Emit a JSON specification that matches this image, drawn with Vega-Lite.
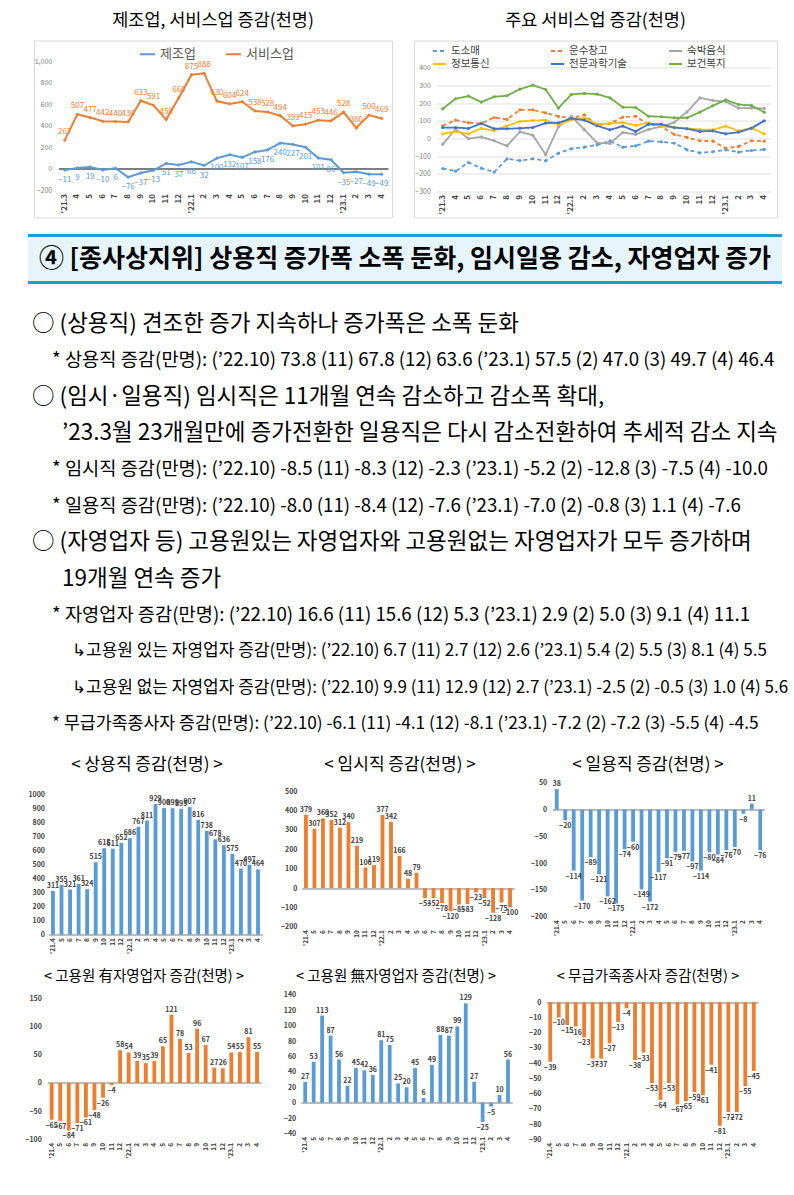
{
  "$schema": "https://vega.github.io/schema/vega-lite/v6.json",
  "padding": {"top": 11.5, "left": 24, "right": 0, "bottom": 0},
  "background": "white",
  "spacing": 15,
  "resolve": {"scale": {"color": "independent", "strokeDash": "independent"}, "legend": {"color": "independent", "strokeDash": "independent"}},
  "config": {
    "font": "Noto Sans CJK KR",
    "view": {"stroke": null},
    "title": {"font": "Noto Sans CJK KR", "fontWeight": "normal", "color": "#000000"},
    "axis": {"labelFont": "Noto Sans CJK KR"},
    "legend": {"labelFont": "Noto Sans CJK KR"}
  },
  "datasets": {
    "mfgsvc": [
      {"month":"21.03","series":"제조업","value":-11},{"month":"21.04","series":"제조업","value":9},{"month":"21.05","series":"제조업","value":19},{"month":"21.06","series":"제조업","value":-10},{"month":"21.07","series":"제조업","value":6},{"month":"21.08","series":"제조업","value":-76},{"month":"21.09","series":"제조업","value":-37},{"month":"21.10","series":"제조업","value":-13},{"month":"21.11","series":"제조업","value":51},{"month":"21.12","series":"제조업","value":37},{"month":"22.01","series":"제조업","value":66},{"month":"22.02","series":"제조업","value":32},{"month":"22.03","series":"제조업","value":100},{"month":"22.04","series":"제조업","value":132},{"month":"22.05","series":"제조업","value":107},{"month":"22.06","series":"제조업","value":158},{"month":"22.07","series":"제조업","value":176},{"month":"22.08","series":"제조업","value":240},{"month":"22.09","series":"제조업","value":227},{"month":"22.10","series":"제조업","value":201},{"month":"22.11","series":"제조업","value":101},{"month":"22.12","series":"제조업","value":86},{"month":"23.01","series":"제조업","value":-35},{"month":"23.02","series":"제조업","value":-27},{"month":"23.03","series":"제조업","value":-49},{"month":"23.04","series":"제조업","value":-49},
      {"month":"21.03","series":"서비스업","value":267},{"month":"21.04","series":"서비스업","value":507},{"month":"21.05","series":"서비스업","value":477},{"month":"21.06","series":"서비스업","value":442},{"month":"21.07","series":"서비스업","value":440},{"month":"21.08","series":"서비스업","value":436},{"month":"21.09","series":"서비스업","value":633},{"month":"21.10","series":"서비스업","value":591},{"month":"21.11","series":"서비스업","value":458},{"month":"21.12","series":"서비스업","value":660},{"month":"22.01","series":"서비스업","value":875},{"month":"22.02","series":"서비스업","value":888},{"month":"22.03","series":"서비스업","value":630},{"month":"22.04","series":"서비스업","value":604},{"month":"22.05","series":"서비스업","value":624},{"month":"22.06","series":"서비스업","value":538},{"month":"22.07","series":"서비스업","value":528},{"month":"22.08","series":"서비스업","value":494},{"month":"22.09","series":"서비스업","value":399},{"month":"22.10","series":"서비스업","value":415},{"month":"22.11","series":"서비스업","value":453},{"month":"22.12","series":"서비스업","value":446},{"month":"23.01","series":"서비스업","value":528},{"month":"23.02","series":"서비스업","value":380},{"month":"23.03","series":"서비스업","value":500},{"month":"23.04","series":"서비스업","value":469}
    ],
    "services": [
      {"month":"21.03","series":"도소매","value":-170},{"month":"21.04","series":"도소매","value":-185},{"month":"21.05","series":"도소매","value":-136},{"month":"21.06","series":"도소매","value":-168},{"month":"21.07","series":"도소매","value":-190},{"month":"21.08","series":"도소매","value":-115},{"month":"21.09","series":"도소매","value":-125},{"month":"21.10","series":"도소매","value":-115},{"month":"21.11","series":"도소매","value":-126},{"month":"21.12","series":"도소매","value":-83},{"month":"22.01","series":"도소매","value":-58},{"month":"22.02","series":"도소매","value":-49},{"month":"22.03","series":"도소매","value":-36},{"month":"22.04","series":"도소매","value":-15},{"month":"22.05","series":"도소매","value":-49},{"month":"22.06","series":"도소매","value":-42},{"month":"22.07","series":"도소매","value":-15},{"month":"22.08","series":"도소매","value":-19},{"month":"22.09","series":"도소매","value":-26},{"month":"22.10","series":"도소매","value":-64},{"month":"22.11","series":"도소매","value":-81},{"month":"22.12","series":"도소매","value":-75},{"month":"23.01","series":"도소매","value":-64},{"month":"23.02","series":"도소매","value":-77},{"month":"23.03","series":"도소매","value":-68},{"month":"23.04","series":"도소매","value":-62},
      {"month":"21.03","series":"운수창고","value":72},{"month":"21.04","series":"운수창고","value":104},{"month":"21.05","series":"운수창고","value":89},{"month":"21.06","series":"운수창고","value":85},{"month":"21.07","series":"운수창고","value":119},{"month":"21.08","series":"운수창고","value":108},{"month":"21.09","series":"운수창고","value":162},{"month":"21.10","series":"운수창고","value":162},{"month":"21.11","series":"운수창고","value":145},{"month":"21.12","series":"운수창고","value":125},{"month":"22.01","series":"운수창고","value":115},{"month":"22.02","series":"운수창고","value":134},{"month":"22.03","series":"운수창고","value":75},{"month":"22.04","series":"운수창고","value":85},{"month":"22.05","series":"운수창고","value":121},{"month":"22.06","series":"운수창고","value":126},{"month":"22.07","series":"운수창고","value":79},{"month":"22.08","series":"운수창고","value":68},{"month":"22.09","series":"운수창고","value":23},{"month":"22.10","series":"운수창고","value":6},{"month":"22.11","series":"운수창고","value":-13},{"month":"22.12","series":"운수창고","value":-15},{"month":"23.01","series":"운수창고","value":-55},{"month":"23.02","series":"운수창고","value":-45},{"month":"23.03","series":"운수창고","value":-13},{"month":"23.04","series":"운수창고","value":-15},
      {"month":"21.03","series":"숙박음식","value":-32},{"month":"21.04","series":"숙박음식","value":53},{"month":"21.05","series":"숙박음식","value":0},{"month":"21.06","series":"숙박음식","value":9},{"month":"21.07","series":"숙박음식","value":-13},{"month":"21.08","series":"숙박음식","value":-42},{"month":"21.09","series":"숙박음식","value":38},{"month":"21.10","series":"숙박음식","value":19},{"month":"21.11","series":"숙박음식","value":-91},{"month":"21.12","series":"숙박음식","value":66},{"month":"22.01","series":"숙박음식","value":126},{"month":"22.02","series":"숙박음식","value":51},{"month":"22.03","series":"숙박음식","value":-25},{"month":"22.04","series":"숙박음식","value":-28},{"month":"22.05","series":"숙박음식","value":34},{"month":"22.06","series":"숙박음식","value":23},{"month":"22.07","series":"숙박음식","value":51},{"month":"22.08","series":"숙박음식","value":68},{"month":"22.09","series":"숙박음식","value":91},{"month":"22.10","series":"숙박음식","value":151},{"month":"22.11","series":"숙박음식","value":230},{"month":"22.12","series":"숙박음식","value":215},{"month":"23.01","series":"숙박음식","value":209},{"month":"23.02","series":"숙박음식","value":172},{"month":"23.03","series":"숙박음식","value":172},{"month":"23.04","series":"숙박음식","value":170},
      {"month":"21.03","series":"정보통신","value":26},{"month":"21.04","series":"정보통신","value":40},{"month":"21.05","series":"정보통신","value":26},{"month":"21.06","series":"정보통신","value":57},{"month":"21.07","series":"정보통신","value":45},{"month":"21.08","series":"정보통신","value":72},{"month":"21.09","series":"정보통신","value":96},{"month":"21.10","series":"정보통신","value":102},{"month":"21.11","series":"정보통신","value":104},{"month":"21.12","series":"정보통신","value":77},{"month":"22.01","series":"정보통신","value":106},{"month":"22.02","series":"정보통신","value":117},{"month":"22.03","series":"정보통신","value":81},{"month":"22.04","series":"정보통신","value":85},{"month":"22.05","series":"정보통신","value":91},{"month":"22.06","series":"정보통신","value":74},{"month":"22.07","series":"정보통신","value":89},{"month":"22.08","series":"정보통신","value":68},{"month":"22.09","series":"정보통신","value":62},{"month":"22.10","series":"정보통신","value":57},{"month":"22.11","series":"정보통신","value":51},{"month":"22.12","series":"정보통신","value":49},{"month":"23.01","series":"정보통신","value":70},{"month":"23.02","series":"정보통신","value":43},{"month":"23.03","series":"정보통신","value":60},{"month":"23.04","series":"정보통신","value":26},
      {"month":"21.03","series":"전문과학기술","value":62},{"month":"21.04","series":"전문과학기술","value":62},{"month":"21.05","series":"전문과학기술","value":57},{"month":"21.06","series":"전문과학기술","value":85},{"month":"21.07","series":"전문과학기술","value":55},{"month":"21.08","series":"전문과학기술","value":55},{"month":"21.09","series":"전문과학기술","value":58},{"month":"21.10","series":"전문과학기술","value":62},{"month":"21.11","series":"전문과학기술","value":87},{"month":"21.12","series":"전문과학기술","value":89},{"month":"22.01","series":"전문과학기술","value":113},{"month":"22.02","series":"전문과학기술","value":104},{"month":"22.03","series":"전문과학기술","value":72},{"month":"22.04","series":"전문과학기술","value":49},{"month":"22.05","series":"전문과학기술","value":70},{"month":"22.06","series":"전문과학기술","value":40},{"month":"22.07","series":"전문과학기술","value":81},{"month":"22.08","series":"전문과학기술","value":81},{"month":"22.09","series":"전문과학기술","value":62},{"month":"22.10","series":"전문과학기술","value":55},{"month":"22.11","series":"전문과학기술","value":40},{"month":"22.12","series":"전문과학기술","value":43},{"month":"23.01","series":"전문과학기술","value":26},{"month":"23.02","series":"전문과학기술","value":36},{"month":"23.03","series":"전문과학기술","value":58},{"month":"23.04","series":"전문과학기술","value":100},
      {"month":"21.03","series":"보건복지","value":168},{"month":"21.04","series":"보건복지","value":225},{"month":"21.05","series":"보건복지","value":240},{"month":"21.06","series":"보건복지","value":206},{"month":"21.07","series":"보건복지","value":236},{"month":"21.08","series":"보건복지","value":242},{"month":"21.09","series":"보건복지","value":279},{"month":"21.10","series":"보건복지","value":302},{"month":"21.11","series":"보건복지","value":277},{"month":"21.12","series":"보건복지","value":172},{"month":"22.01","series":"보건복지","value":249},{"month":"22.02","series":"보건복지","value":255},{"month":"22.03","series":"보건복지","value":251},{"month":"22.04","series":"보건복지","value":230},{"month":"22.05","series":"보건복지","value":177},{"month":"22.06","series":"보건복지","value":175},{"month":"22.07","series":"보건복지","value":126},{"month":"22.08","series":"보건복지","value":123},{"month":"22.09","series":"보건복지","value":117},{"month":"22.10","series":"보건복지","value":117},{"month":"22.11","series":"보건복지","value":149},{"month":"22.12","series":"보건복지","value":185},{"month":"23.01","series":"보건복지","value":219},{"month":"23.02","series":"보건복지","value":192},{"month":"23.03","series":"보건복지","value":187},{"month":"23.04","series":"보건복지","value":149}
    ],
    "emp": [
      {"month":"21.04","series":"상용직","value":311},{"month":"21.05","series":"상용직","value":355},{"month":"21.06","series":"상용직","value":321},{"month":"21.07","series":"상용직","value":361},{"month":"21.08","series":"상용직","value":324},{"month":"21.09","series":"상용직","value":515},{"month":"21.10","series":"상용직","value":615},{"month":"21.11","series":"상용직","value":611},{"month":"21.12","series":"상용직","value":652},{"month":"22.01","series":"상용직","value":686},{"month":"22.02","series":"상용직","value":767},{"month":"22.03","series":"상용직","value":811},{"month":"22.04","series":"상용직","value":929},{"month":"22.05","series":"상용직","value":900},{"month":"22.06","series":"상용직","value":899},{"month":"22.07","series":"상용직","value":895},{"month":"22.08","series":"상용직","value":907},{"month":"22.09","series":"상용직","value":816},{"month":"22.10","series":"상용직","value":738},{"month":"22.11","series":"상용직","value":678},{"month":"22.12","series":"상용직","value":636},{"month":"23.01","series":"상용직","value":575},{"month":"23.02","series":"상용직","value":470},{"month":"23.03","series":"상용직","value":497},{"month":"23.04","series":"상용직","value":464},
      {"month":"21.04","series":"임시직","value":379},{"month":"21.05","series":"임시직","value":307},{"month":"21.06","series":"임시직","value":360},{"month":"21.07","series":"임시직","value":352},{"month":"21.08","series":"임시직","value":312},{"month":"21.09","series":"임시직","value":340},{"month":"21.10","series":"임시직","value":219},{"month":"21.11","series":"임시직","value":106},{"month":"21.12","series":"임시직","value":119},{"month":"22.01","series":"임시직","value":377},{"month":"22.02","series":"임시직","value":342},{"month":"22.03","series":"임시직","value":166},{"month":"22.04","series":"임시직","value":48},{"month":"22.05","series":"임시직","value":79},{"month":"22.06","series":"임시직","value":-53},{"month":"22.07","series":"임시직","value":-52},{"month":"22.08","series":"임시직","value":-78},{"month":"22.09","series":"임시직","value":-120},{"month":"22.10","series":"임시직","value":-85},{"month":"22.11","series":"임시직","value":-83},{"month":"22.12","series":"임시직","value":-23},{"month":"23.01","series":"임시직","value":-52},{"month":"23.02","series":"임시직","value":-128},{"month":"23.03","series":"임시직","value":-75},{"month":"23.04","series":"임시직","value":-100},
      {"month":"21.04","series":"일용직","value":38},{"month":"21.05","series":"일용직","value":-20},{"month":"21.06","series":"일용직","value":-114},{"month":"21.07","series":"일용직","value":-170},{"month":"21.08","series":"일용직","value":-89},{"month":"21.09","series":"일용직","value":-121},{"month":"21.10","series":"일용직","value":-162},{"month":"21.11","series":"일용직","value":-175},{"month":"21.12","series":"일용직","value":-74},{"month":"22.01","series":"일용직","value":-60},{"month":"22.02","series":"일용직","value":-149},{"month":"22.03","series":"일용직","value":-172},{"month":"22.04","series":"일용직","value":-117},{"month":"22.05","series":"일용직","value":-91},{"month":"22.06","series":"일용직","value":-79},{"month":"22.07","series":"일용직","value":-77},{"month":"22.08","series":"일용직","value":-97},{"month":"22.09","series":"일용직","value":-114},{"month":"22.10","series":"일용직","value":-80},{"month":"22.11","series":"일용직","value":-84},{"month":"22.12","series":"일용직","value":-76},{"month":"23.01","series":"일용직","value":-70},{"month":"23.02","series":"일용직","value":-8},{"month":"23.03","series":"일용직","value":11},{"month":"23.04","series":"일용직","value":-76},
      {"month":"21.04","series":"고용원 있는 자영업자","value":-65},{"month":"21.05","series":"고용원 있는 자영업자","value":-67},{"month":"21.06","series":"고용원 있는 자영업자","value":-84},{"month":"21.07","series":"고용원 있는 자영업자","value":-71},{"month":"21.08","series":"고용원 있는 자영업자","value":-61},{"month":"21.09","series":"고용원 있는 자영업자","value":-48},{"month":"21.10","series":"고용원 있는 자영업자","value":-26},{"month":"21.11","series":"고용원 있는 자영업자","value":-4},{"month":"21.12","series":"고용원 있는 자영업자","value":58},{"month":"22.01","series":"고용원 있는 자영업자","value":54},{"month":"22.02","series":"고용원 있는 자영업자","value":39},{"month":"22.03","series":"고용원 있는 자영업자","value":35},{"month":"22.04","series":"고용원 있는 자영업자","value":39},{"month":"22.05","series":"고용원 있는 자영업자","value":65},{"month":"22.06","series":"고용원 있는 자영업자","value":121},{"month":"22.07","series":"고용원 있는 자영업자","value":78},{"month":"22.08","series":"고용원 있는 자영업자","value":53},{"month":"22.09","series":"고용원 있는 자영업자","value":96},{"month":"22.10","series":"고용원 있는 자영업자","value":67},{"month":"22.11","series":"고용원 있는 자영업자","value":27},{"month":"22.12","series":"고용원 있는 자영업자","value":26},{"month":"23.01","series":"고용원 있는 자영업자","value":54},{"month":"23.02","series":"고용원 있는 자영업자","value":55},{"month":"23.03","series":"고용원 있는 자영업자","value":81},{"month":"23.04","series":"고용원 있는 자영업자","value":55},
      {"month":"21.04","series":"고용원 없는 자영업자","value":27},{"month":"21.05","series":"고용원 없는 자영업자","value":53},{"month":"21.06","series":"고용원 없는 자영업자","value":113},{"month":"21.07","series":"고용원 없는 자영업자","value":87},{"month":"21.08","series":"고용원 없는 자영업자","value":56},{"month":"21.09","series":"고용원 없는 자영업자","value":22},{"month":"21.10","series":"고용원 없는 자영업자","value":45},{"month":"21.11","series":"고용원 없는 자영업자","value":42},{"month":"21.12","series":"고용원 없는 자영업자","value":36},{"month":"22.01","series":"고용원 없는 자영업자","value":81},{"month":"22.02","series":"고용원 없는 자영업자","value":75},{"month":"22.03","series":"고용원 없는 자영업자","value":25},{"month":"22.04","series":"고용원 없는 자영업자","value":20},{"month":"22.05","series":"고용원 없는 자영업자","value":45},{"month":"22.06","series":"고용원 없는 자영업자","value":6},{"month":"22.07","series":"고용원 없는 자영업자","value":49},{"month":"22.08","series":"고용원 없는 자영업자","value":88},{"month":"22.09","series":"고용원 없는 자영업자","value":87},{"month":"22.10","series":"고용원 없는 자영업자","value":99},{"month":"22.11","series":"고용원 없는 자영업자","value":129},{"month":"22.12","series":"고용원 없는 자영업자","value":27},{"month":"23.01","series":"고용원 없는 자영업자","value":-25},{"month":"23.02","series":"고용원 없는 자영업자","value":-5},{"month":"23.03","series":"고용원 없는 자영업자","value":10},{"month":"23.04","series":"고용원 없는 자영업자","value":56},
      {"month":"21.04","series":"무급가족종사자","value":-39},{"month":"21.05","series":"무급가족종사자","value":-10},{"month":"21.06","series":"무급가족종사자","value":-15},{"month":"21.07","series":"무급가족종사자","value":-16},{"month":"21.08","series":"무급가족종사자","value":-23},{"month":"21.09","series":"무급가족종사자","value":-37},{"month":"21.10","series":"무급가족종사자","value":-37},{"month":"21.11","series":"무급가족종사자","value":-27},{"month":"21.12","series":"무급가족종사자","value":-13},{"month":"22.01","series":"무급가족종사자","value":-4},{"month":"22.02","series":"무급가족종사자","value":-38},{"month":"22.03","series":"무급가족종사자","value":-33},{"month":"22.04","series":"무급가족종사자","value":-53},{"month":"22.05","series":"무급가족종사자","value":-64},{"month":"22.06","series":"무급가족종사자","value":-53},{"month":"22.07","series":"무급가족종사자","value":-67},{"month":"22.08","series":"무급가족종사자","value":-65},{"month":"22.09","series":"무급가족종사자","value":-59},{"month":"22.10","series":"무급가족종사자","value":-61},{"month":"22.11","series":"무급가족종사자","value":-41},{"month":"22.12","series":"무급가족종사자","value":-81},{"month":"23.01","series":"무급가족종사자","value":-72},{"month":"23.02","series":"무급가족종사자","value":-72},{"month":"23.03","series":"무급가족종사자","value":-55},{"month":"23.04","series":"무급가족종사자","value":-45}
    ],
    "notes": [
      {"line":0,"indent":0,"kind":"main","text":"○  (상용직) 견조한 증가 지속하나 증가폭은 소폭 둔화"},
      {"line":1,"indent":1,"kind":"note","text":"*  상용직 증감(만명): (’22.10) 73.8 (11) 67.8 (12) 63.6 (’23.1) 57.5 (2) 47.0 (3) 49.7 (4) 46.4"},
      {"line":2,"indent":0,"kind":"main","text":"○  (임시·일용직) 임시직은 11개월 연속 감소하고 감소폭 확대,"},
      {"line":3,"indent":1.5,"kind":"main","text":"’23.3월 23개월만에 증가전환한 일용직은 다시 감소전환하여 추세적 감소 지속"},
      {"line":4,"indent":1,"kind":"note","text":"*  임시직 증감(만명): (’22.10) -8.5 (11) -8.3 (12) -2.3 (’23.1) -5.2 (2) -12.8 (3) -7.5 (4) -10.0"},
      {"line":5,"indent":1,"kind":"note","text":"*  일용직 증감(만명): (’22.10) -8.0 (11) -8.4 (12) -7.6 (’23.1) -7.0 (2) -0.8 (3) 1.1 (4) -7.6"},
      {"line":6,"indent":0,"kind":"main","text":"○  (자영업자 등) 고용원있는 자영업자와 고용원없는 자영업자가 모두 증가하며"},
      {"line":7,"indent":1.5,"kind":"main","text":"19개월 연속 증가"},
      {"line":8,"indent":1,"kind":"note","text":"*  자영업자 증감(만명): (’22.10) 16.6 (11) 15.6 (12) 5.3 (’23.1) 2.9 (2) 5.0 (3) 9.1 (4) 11.1"},
      {"line":9,"indent":2,"kind":"sub","text":"↳고용원 있는 자영업자 증감(만명): (’22.10) 6.7 (11) 2.7 (12) 2.6 (’23.1) 5.4 (2) 5.5 (3) 8.1 (4) 5.5"},
      {"line":10,"indent":2,"kind":"sub","text":"↳고용원 없는 자영업자 증감(만명): (’22.10) 9.9 (11) 12.9 (12) 2.7 (’23.1) -2.5 (2) -0.5 (3) 1.0 (4) 5.6"},
      {"line":11,"indent":1,"kind":"note","text":"*  무급가족종사자 증감(만명): (’22.10) -6.1 (11) -4.1 (12) -8.1 (’23.1) -7.2 (2) -7.2 (3) -5.5 (4) -4.5"}
    ]
  },
  "vconcat": [
    {
      "spacing": 4,
      "resolve": {"scale": {"color": "independent", "strokeDash": "independent"}, "legend": {"color": "independent", "strokeDash": "independent"}},
      "hconcat": [
        {"width": 1, "height": 1, "data": {"values": []}, "mark": "point", "encoding": {}},
        {
          "spacing": 20,
          "resolve": {"scale": {"color": "independent", "strokeDash": "independent"}, "legend": {"color": "independent", "strokeDash": "independent"}},
          "hconcat": [
            {
              "width": 358, "height": 177,
              "view": {"stroke": "#D9D9D9"},
              "title": {"text": "제조업, 서비스업 증감(천명)", "fontSize": 17.5, "offset": 11, "anchor": "middle"},
              "data": {"name": "mfgsvc"},
              "encoding": {
                "x": {"field": "month", "type": "ordinal", "scale": {"type": "band", "range": [24.4, 354], "paddingInner": 0, "paddingOuter": 0},
                  "axis": {"orient": "bottom", "offset": -27, "labelAngle": 270, "labelExpr": "(substring(datum.value,3)=='01' || datum.value=='21.03') ? \"'\" + substring(datum.value,0,3) + toNumber(substring(datum.value,3)) : '' + toNumber(substring(datum.value,3))", "labelFontSize": 8, "labelFontWeight": "bold", "labelColor": "#404040", "domain": false, "ticks": false, "tickSize": 0, "labelPadding": 3, "title": null}},
                "y": {"field": "value", "type": "quantitative", "scale": {"domain": [-200, 1000], "range": [150, 20.7], "nice": false},
                  "axis": {"values": [-200, 0, 200, 400, 600, 800, 1000], "offset": -19.7, "labelFontSize": 7, "labelColor": "#808080", "domain": false, "ticks": false, "tickSize": 0, "labelPadding": 2, "title": null, "grid": true, "gridColor": {"condition": {"test": "datum.value === 0", "value": "#7F7F7F"}, "value": "rgba(0,0,0,0)"}, "gridWidth": 2}},
                "color": {"field": "series", "type": "nominal", "scale": {"domain": ["제조업", "서비스업"], "range": ["#5B9BD5", "#ED7D31"]},
                  "legend": {"orient": "none", "legendX": 105, "legendY": 5, "direction": "horizontal", "columns": 2, "columnPadding": 26, "title": null, "labelFontSize": 13, "labelColor": "#595959", "symbolType": "stroke", "symbolSize": 225, "symbolStrokeWidth": 2, "labelOffset": 4}}
              },
              "layer": [
                {"mark": {"type": "line", "strokeWidth": 2, "point": {"filled": true, "size": 14, "shape": "diamond"}}},
                {"transform": [{"filter": "datum.series === '서비스업'"}], "mark": {"type": "text", "dy": -8, "fontSize": 8}, "encoding": {"text": {"field": "value", "type": "quantitative"}}},
                {"transform": [{"filter": "datum.series === '제조업'"}], "mark": {"type": "text", "dy": 10, "fontSize": 8}, "encoding": {"text": {"field": "value", "type": "quantitative"}}}
              ]
            },
            {
              "width": 363, "height": 177,
              "view": {"stroke": "#D9D9D9"},
              "title": {"text": "주요 서비스업 증감(천명)", "fontSize": 17.5, "offset": 11, "anchor": "middle"},
              "data": {"name": "services"},
              "mark": {"type": "line", "strokeWidth": 1.8, "point": {"filled": true, "size": 10}},
              "encoding": {
                "x": {"field": "month", "type": "ordinal", "scale": {"type": "band", "range": [22.3, 356.7], "paddingInner": 0, "paddingOuter": 0},
                  "axis": {"orient": "bottom", "offset": -26, "labelAngle": 270, "labelExpr": "(substring(datum.value,3)=='01' || datum.value=='21.03') ? \"'\" + substring(datum.value,0,3) + toNumber(substring(datum.value,3)) : '' + toNumber(substring(datum.value,3))", "labelFontSize": 8, "labelFontWeight": "bold", "labelColor": "#404040", "domain": false, "ticks": false, "tickSize": 0, "labelPadding": 3, "title": null}},
                "y": {"field": "value", "type": "quantitative", "scale": {"domain": [-300, 400], "range": [151, 27.3], "nice": false},
                  "axis": {"values": [-300, -200, -100, 0, 100, 200, 300, 400], "format": "d", "offset": -18.3, "labelFontSize": 7, "labelColor": "#808080", "domain": false, "ticks": false, "tickSize": 0, "labelPadding": 2, "title": null, "grid": true, "gridColor": "#D9D9D9", "gridWidth": 0.8}},
                "color": {"field": "series", "type": "nominal", "scale": {"domain": ["도소매", "운수창고", "숙박음식", "정보통신", "전문과학기술", "보건복지"], "range": ["#5B9BD5", "#ED7D31", "#A5A5A5", "#FFC000", "#4472C4", "#70AD47"]},
                  "legend": {"orient": "none", "legendX": 18, "legendY": 3, "direction": "horizontal", "columns": 3, "gridAlign": "all", "columnPadding": 38, "rowPadding": 0, "title": null, "labelFontSize": 10.5, "labelColor": "#404040", "symbolType": "stroke", "symbolSize": 170, "symbolStrokeWidth": 1.8, "labelOffset": 4}},
                "strokeDash": {"field": "series", "type": "nominal", "scale": {"domain": ["도소매", "운수창고", "숙박음식", "정보통신", "전문과학기술", "보건복지"], "range": [[4, 3], [4, 3], [1, 0], [1, 0], [1, 0], [1, 0]]},
                  "legend": {"orient": "none", "legendX": 18, "legendY": 3, "direction": "horizontal", "columns": 3, "gridAlign": "all", "columnPadding": 38, "rowPadding": 0, "title": null, "labelFontSize": 10.5, "labelColor": "#404040", "symbolType": "stroke", "symbolSize": 170, "symbolStrokeWidth": 1.8, "labelOffset": 4}}
              }
            }
          ]
        }
      ]
    },
    {
      "width": 754, "height": 47,
      "view": {"fill": "#E6F4FB", "stroke": null},
      "data": {"values": [{"heading": "④ [종사상지위] 상용직 증가폭 소폭 둔화, 임시일용 감소, 자영업자 증가"}]},
      "layer": [
        {"mark": {"type": "rule", "color": "#1E9AD6", "strokeWidth": 3}, "encoding": {"y": {"datum": 1, "type": "quantitative", "scale": {"domain": [0, 1], "nice": false}, "axis": null}}},
        {"mark": {"type": "rule", "color": "#1E9AD6", "strokeWidth": 3}, "encoding": {"y": {"datum": 0, "type": "quantitative"}}},
        {"mark": {"type": "text", "fontSize": 25, "fontWeight": "bold", "color": "#000000", "baseline": "middle"}, "encoding": {"y": {"datum": 0.5, "type": "quantitative"}, "text": {"field": "heading"}}}
      ]
    },
    {
      "width": 756, "height": 441,
      "data": {"name": "notes"},
      "encoding": {
        "x": {"field": "indent", "type": "quantitative", "scale": {"domain": [0, 2], "range": [4, 44]}, "axis": null},
        "y": {"field": "line", "type": "quantitative", "scale": {"domain": [0, 11], "range": [24.5, 424.5]}, "axis": null},
        "text": {"field": "text"}
      },
      "layer": [
        {"transform": [{"filter": "datum.kind === 'main'"}], "mark": {"type": "text", "align": "left", "baseline": "middle", "fontSize": 22.5, "color": "#000000"}},
        {"transform": [{"filter": "datum.kind === 'note' && datum.line !== 11"}], "mark": {"type": "text", "align": "left", "baseline": "middle", "fontSize": 18.7, "color": "#000000"}},
        {"transform": [{"filter": "datum.kind === 'note' && datum.line === 11"}], "mark": {"type": "text", "align": "left", "baseline": "middle", "fontSize": 17.3, "color": "#000000"}},
        {"transform": [{"filter": "datum.kind === 'sub'"}], "mark": {"type": "text", "align": "left", "baseline": "middle", "fontSize": 17, "color": "#000000"}}
      ]
    },
    {
      "spacing": 6,
      "hconcat": [
        {
          "width": 246, "height": 170,
          "title": {"text": "< 상용직 증감(천명) >", "fontSize": 17, "offset": 2, "dx": -4},
          "data": {"name": "emp"},
          "transform": [{"filter": "datum.series === '상용직'"}],
          "encoding": {
            "x": {"field": "month", "type": "ordinal", "scale": {"type": "band", "range": [20.7, 234.3], "paddingInner": 0, "paddingOuter": 0},
              "axis": {"orient": "bottom", "offset": -10.8, "labelAngle": 270, "labelExpr": "(substring(datum.value,3)=='01' || datum.value=='21.04') ? \"'\" + substring(datum.value,0,3) + toNumber(substring(datum.value,3)) : '' + toNumber(substring(datum.value,3))", "labelFontSize": 6.5, "labelFontWeight": "bold", "labelColor": "#404040", "domain": false, "ticks": false, "tickSize": 0, "labelPadding": 3, "title": null}},
            "y": {"field": "value", "type": "quantitative", "scale": {"domain": [0, 1000], "range": [159.2, 18.5], "nice": false},
              "axis": {"values": [0, 100, 200, 300, 400, 500, 600, 700, 800, 900, 1000], "format": "d", "offset": -18.5, "labelFontSize": 7, "labelFontWeight": "bold", "labelColor": "#404040", "domain": false, "ticks": false, "tickSize": 0, "labelPadding": 2, "title": null, "grid": true, "gridColor": {"condition": {"test": "datum.value === 0", "value": "#A6A6A6"}, "value": "rgba(0,0,0,0)"}, "gridWidth": 1.5}}
          },
          "layer": [
            {"mark": {"type": "bar", "color": "#5B9BD5", "width": {"band": 0.45}}},
            {"transform": [{"filter": "datum.value >= 0"}], "mark": {"type": "text", "baseline": "bottom", "dy": -2, "fontSize": 7, "fontWeight": "bold", "color": "#404040"}, "encoding": {"text": {"field": "value", "type": "quantitative"}}},
            {"transform": [{"filter": "datum.value < 0"}], "mark": {"type": "text", "baseline": "top", "dy": 2, "fontSize": 7, "fontWeight": "bold", "color": "#404040"}, "encoding": {"text": {"field": "value", "type": "quantitative"}}}
          ]
        },
        {
          "width": 242, "height": 170,
          "title": {"text": "< 임시직 증감(천명) >", "fontSize": 17, "offset": 2, "dx": -3},
          "data": {"name": "emp"},
          "transform": [{"filter": "datum.series === '임시직'"}],
          "encoding": {
            "x": {"field": "month", "type": "ordinal", "scale": {"type": "band", "range": [19.7, 232.3], "paddingInner": 0, "paddingOuter": 0},
              "axis": {"orient": "bottom", "offset": -18.8, "labelAngle": 270, "labelExpr": "(substring(datum.value,3)=='01' || datum.value=='21.04') ? \"'\" + substring(datum.value,0,3) + toNumber(substring(datum.value,3)) : '' + toNumber(substring(datum.value,3))", "labelFontSize": 6.5, "labelFontWeight": "bold", "labelColor": "#404040", "domain": false, "ticks": false, "tickSize": 0, "labelPadding": 3, "title": null}},
            "y": {"field": "value", "type": "quantitative", "scale": {"domain": [-200, 500], "range": [151.2, 15.8], "nice": false},
              "axis": {"values": [-200, -100, 0, 100, 200, 300, 400, 500], "format": "d", "offset": -17, "labelFontSize": 7, "labelFontWeight": "bold", "labelColor": "#404040", "domain": false, "ticks": false, "tickSize": 0, "labelPadding": 2, "title": null, "grid": true, "gridColor": {"condition": {"test": "datum.value === 0", "value": "#A6A6A6"}, "value": "rgba(0,0,0,0)"}, "gridWidth": 1.5}}
          },
          "layer": [
            {"mark": {"type": "bar", "color": "#ED7D31", "width": {"band": 0.45}}},
            {"transform": [{"filter": "datum.value >= 0"}], "mark": {"type": "text", "baseline": "bottom", "dy": -2, "fontSize": 7, "fontWeight": "bold", "color": "#404040"}, "encoding": {"text": {"field": "value", "type": "quantitative"}}},
            {"transform": [{"filter": "datum.value < 0"}], "mark": {"type": "text", "baseline": "top", "dy": 2, "fontSize": 7, "fontWeight": "bold", "color": "#404040"}, "encoding": {"text": {"field": "value", "type": "quantitative"}}}
          ]
        },
        {
          "width": 246, "height": 170,
          "title": {"text": "< 일용직 증감(천명) >", "fontSize": 17, "offset": 2, "dx": -5},
          "data": {"name": "emp"},
          "transform": [{"filter": "datum.series === '일용직'"}],
          "encoding": {
            "x": {"field": "month", "type": "ordinal", "scale": {"type": "band", "range": [22.5, 234.5], "paddingInner": 0, "paddingOuter": 0},
              "axis": {"orient": "bottom", "offset": -28.8, "labelAngle": 270, "labelExpr": "(substring(datum.value,3)=='01' || datum.value=='21.04') ? \"'\" + substring(datum.value,0,3) + toNumber(substring(datum.value,3)) : '' + toNumber(substring(datum.value,3))", "labelFontSize": 6.5, "labelFontWeight": "bold", "labelColor": "#404040", "domain": false, "ticks": false, "tickSize": 0, "labelPadding": 3, "title": null}},
            "y": {"field": "value", "type": "quantitative", "scale": {"domain": [-200, 50], "range": [141.2, 7.2], "nice": false},
              "axis": {"values": [-200, -150, -100, -50, 0, 50], "format": "d", "offset": -18.7, "labelFontSize": 7, "labelFontWeight": "bold", "labelColor": "#404040", "domain": false, "ticks": false, "tickSize": 0, "labelPadding": 2, "title": null, "grid": true, "gridColor": {"condition": {"test": "datum.value === 0", "value": "#A6A6A6"}, "value": "rgba(0,0,0,0)"}, "gridWidth": 1.5}}
          },
          "layer": [
            {"mark": {"type": "bar", "color": "#5B9BD5", "width": {"band": 0.45}}},
            {"transform": [{"filter": "datum.value >= 0"}], "mark": {"type": "text", "baseline": "bottom", "dy": -2, "fontSize": 7, "fontWeight": "bold", "color": "#404040"}, "encoding": {"text": {"field": "value", "type": "quantitative"}}},
            {"transform": [{"filter": "datum.value < 0"}], "mark": {"type": "text", "baseline": "top", "dy": 2, "fontSize": 7, "fontWeight": "bold", "color": "#404040"}, "encoding": {"text": {"field": "value", "type": "quantitative"}}}
          ]
        }
      ]
    },
    {
      "spacing": 6,
      "hconcat": [
        {
          "width": 246, "height": 175,
          "title": {"text": "< 고용원 有자영업자 증감(천명) >", "fontSize": 14.5, "offset": 1.5, "dx": -7},
          "data": {"name": "emp"},
          "transform": [{"filter": "datum.series === '고용원 있는 자영업자'"}],
          "encoding": {
            "x": {"field": "month", "type": "ordinal", "scale": {"type": "band", "range": [19.4, 233.3], "paddingInner": 0, "paddingOuter": 0},
              "axis": {"orient": "bottom", "offset": -21, "labelAngle": 270, "labelExpr": "(substring(datum.value,3)=='01' || datum.value=='21.04') ? \"'\" + substring(datum.value,0,3) + toNumber(substring(datum.value,3)) : '' + toNumber(substring(datum.value,3))", "labelFontSize": 6.5, "labelFontWeight": "bold", "labelColor": "#404040", "domain": false, "ticks": false, "tickSize": 0, "labelPadding": 3, "title": null}},
            "y": {"field": "value", "type": "quantitative", "scale": {"domain": [-100, 150], "range": [154, 12.7], "nice": false},
              "axis": {"values": [-100, -50, 0, 50, 100, 150], "format": "d", "offset": -15.3, "labelFontSize": 7, "labelFontWeight": "bold", "labelColor": "#404040", "domain": false, "ticks": false, "tickSize": 0, "labelPadding": 2, "title": null, "grid": true, "gridColor": {"condition": {"test": "datum.value === 0", "value": "#A6A6A6"}, "value": "rgba(0,0,0,0)"}, "gridWidth": 1.5}}
          },
          "layer": [
            {"mark": {"type": "bar", "color": "#ED7D31", "width": {"band": 0.45}}},
            {"transform": [{"filter": "datum.value >= 0"}], "mark": {"type": "text", "baseline": "bottom", "dy": -2, "fontSize": 7, "fontWeight": "bold", "color": "#404040"}, "encoding": {"text": {"field": "value", "type": "quantitative"}}},
            {"transform": [{"filter": "datum.value < 0"}], "mark": {"type": "text", "baseline": "top", "dy": 2, "fontSize": 7, "fontWeight": "bold", "color": "#404040"}, "encoding": {"text": {"field": "value", "type": "quantitative"}}}
          ]
        },
        {
          "width": 242, "height": 175,
          "title": {"text": "< 고용원 無자영업자 증감(천명) >", "fontSize": 14.5, "offset": 1.5, "dx": -5},
          "data": {"name": "emp"},
          "transform": [{"filter": "datum.series === '고용원 없는 자영업자'"}],
          "encoding": {
            "x": {"field": "month", "type": "ordinal", "scale": {"type": "band", "range": [21, 232.2], "paddingInner": 0, "paddingOuter": 0},
              "axis": {"orient": "bottom", "offset": -27, "labelAngle": 270, "labelExpr": "(substring(datum.value,3)=='01' || datum.value=='21.04') ? \"'\" + substring(datum.value,0,3) + toNumber(substring(datum.value,3)) : '' + toNumber(substring(datum.value,3))", "labelFontSize": 6.5, "labelFontWeight": "bold", "labelColor": "#404040", "domain": false, "ticks": false, "tickSize": 0, "labelPadding": 3, "title": null}},
            "y": {"field": "value", "type": "quantitative", "scale": {"domain": [-40, 140], "range": [148, 9.3], "nice": false},
              "axis": {"values": [-40, -20, 0, 20, 40, 60, 80, 100, 120, 140], "format": "d", "offset": -17.7, "labelFontSize": 7, "labelFontWeight": "bold", "labelColor": "#404040", "domain": false, "ticks": false, "tickSize": 0, "labelPadding": 2, "title": null, "grid": true, "gridColor": {"condition": {"test": "datum.value === 0", "value": "#A6A6A6"}, "value": "rgba(0,0,0,0)"}, "gridWidth": 1.5}}
          },
          "layer": [
            {"mark": {"type": "bar", "color": "#5B9BD5", "width": {"band": 0.45}}},
            {"transform": [{"filter": "datum.value >= 0"}], "mark": {"type": "text", "baseline": "bottom", "dy": -2, "fontSize": 7, "fontWeight": "bold", "color": "#404040"}, "encoding": {"text": {"field": "value", "type": "quantitative"}}},
            {"transform": [{"filter": "datum.value < 0"}], "mark": {"type": "text", "baseline": "top", "dy": 2, "fontSize": 7, "fontWeight": "bold", "color": "#404040"}, "encoding": {"text": {"field": "value", "type": "quantitative"}}}
          ]
        },
        {
          "width": 246, "height": 175,
          "title": {"text": "< 무급가족종사자 증감(천명) >", "fontSize": 14.5, "offset": 1.5, "dx": -5},
          "data": {"name": "emp"},
          "transform": [{"filter": "datum.series === '무급가족종사자'"}],
          "encoding": {
            "x": {"field": "month", "type": "ordinal", "scale": {"type": "band", "range": [16, 228], "paddingInner": 0, "paddingOuter": 0},
              "axis": {"orient": "bottom", "offset": -21, "labelAngle": 270, "labelExpr": "(substring(datum.value,3)=='01' || datum.value=='21.04') ? \"'\" + substring(datum.value,0,3) + toNumber(substring(datum.value,3)) : '' + toNumber(substring(datum.value,3))", "labelFontSize": 6.5, "labelFontWeight": "bold", "labelColor": "#404040", "domain": false, "ticks": false, "tickSize": 0, "labelPadding": 3, "title": null}},
            "y": {"field": "value", "type": "quantitative", "scale": {"domain": [-90, 0], "range": [154, 16.7], "nice": false},
              "axis": {"values": [-90, -80, -70, -60, -50, -40, -30, -20, -10, 0], "format": "d", "offset": -13, "labelFontSize": 7, "labelFontWeight": "bold", "labelColor": "#404040", "domain": false, "ticks": false, "tickSize": 0, "labelPadding": 2, "title": null, "grid": true, "gridColor": {"condition": {"test": "datum.value === 0", "value": "#A6A6A6"}, "value": "rgba(0,0,0,0)"}, "gridWidth": 1.5}}
          },
          "layer": [
            {"mark": {"type": "bar", "color": "#ED7D31", "width": {"band": 0.45}}},
            {"transform": [{"filter": "datum.value >= 0"}], "mark": {"type": "text", "baseline": "bottom", "dy": -2, "fontSize": 7, "fontWeight": "bold", "color": "#404040"}, "encoding": {"text": {"field": "value", "type": "quantitative"}}},
            {"transform": [{"filter": "datum.value < 0"}], "mark": {"type": "text", "baseline": "top", "dy": 2, "fontSize": 7, "fontWeight": "bold", "color": "#404040"}, "encoding": {"text": {"field": "value", "type": "quantitative"}}}
          ]
        }
      ]
    }
  ]
}
